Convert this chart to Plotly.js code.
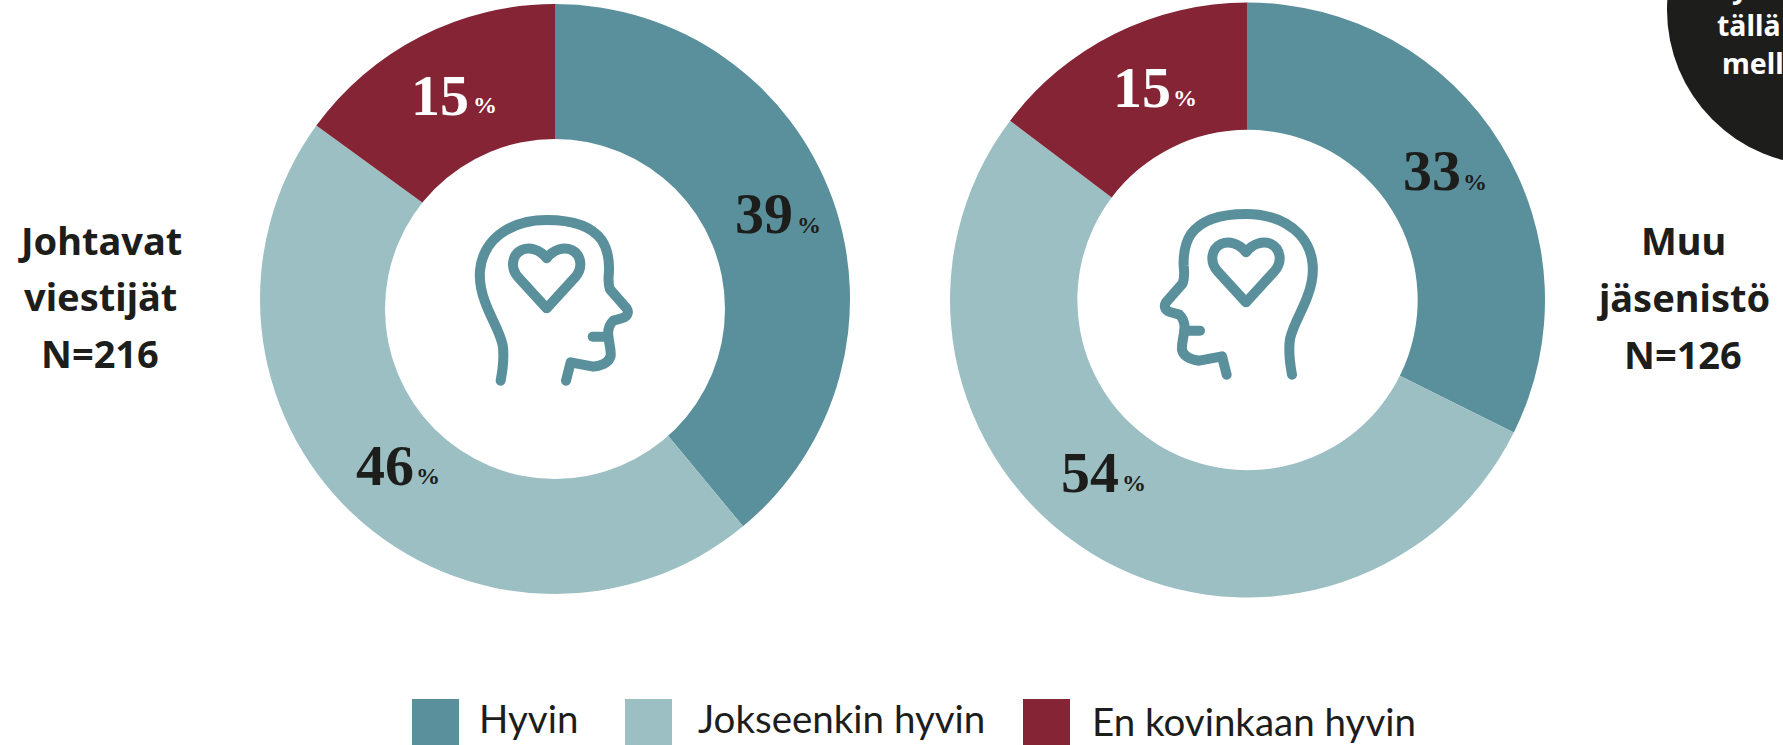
<!DOCTYPE html>
<html><head><meta charset="utf-8">
<script src="https://cdn.plot.ly/plotly-3.0.1.min.js"></script>
<style>html,body{margin:0;padding:0;background:#fff;overflow:hidden}
#c{width:1783px;height:745px}
.shapelayer path{stroke-linecap:round;stroke-linejoin:round}</style>
</head><body><div id="c"></div>
<script>
const categories = ["Hyvin", "Jokseenkin hyvin", "En kovinkaan hyvin"];
const leadersValues = [39, 46, 15];
const othersValues = [33, 54, 15];
const leadersLabel = ["Johtavat", "viestijät", "N=216"];
const othersLabel = ["Muu", "jäsenistö", "N=126"];
const calloutLines = ["y", "tällä", "mell"];
const colors = ["#5A909B", "#9BBFC3", "#842435"];
const labelColors = ["#1D1D1B", "#1D1D1B", "#FFFFFF"];

const W = 1783, H = 745;
const fx = x => x / W, fy = y => 1 - y / H;
const TXT = "#1D1D1B";

function donut(values, cx, cy, r, hole) {
  return {
    type: "pie", values, labels: categories, sort: false, direction: "clockwise", rotation: 0,
    hole, domain: {x: [fx(cx - r), fx(cx + r)], y: [fy(cy + r), fy(cy - r)]},
    marker: {colors, line: {width: 0}},
    textinfo: "none", hoverinfo: "label+percent", showlegend: false
  };
}

const headPath = "M182,572 C188,540 194,505 188,465 C178,420 150,380 135,335 C112,275 110,205 160,150 C205,105 265,90 320,90 C385,90 450,102 485,150 C505,180 508,215 507,245 C505,265 503,280 510,298 L560,355 C568,368 562,378 548,384 L520,392 C507,404 503,422 505,440 C507,460 514,480 512,498 C507,518 490,526 460,530 L392,517 L378,572";
const mouthPath = "M458,440 L505,440";
const heartPath = "M320,205 C300,178 268,170 245,180 C215,195 210,235 235,262 L320,355 L405,262 C430,235 425,195 395,180 C372,170 340,178 320,205 Z";

function mapPath(p, mapper) {
  return p.replace(/(-?\d+(?:\.\d+)?),(-?\d+(?:\.\d+)?)/g, (m, a, b) => {
    const q = mapper(+a, +b);
    return q[0].toFixed(5) + "," + q[1].toFixed(5);
  });
}
const leftIcon = (x, y) => [fx(440 + x / 3), fy(190 + y / 3)];
const rightIcon = (x, y) => [fx(1130 + (668 - x) / 3), fy(190 + (y - 18) / 3)];

const shapes = [];
// white centre of the left ring sits slightly below the ring's own centre
shapes.push({type: "circle", xref: "paper", yref: "paper",
  x0: fx(555 - 170), x1: fx(555 + 170), y0: fy(309 + 170), y1: fy(309 - 170),
  fillcolor: "#FFFFFF", line: {width: 0}, layer: "above"});
[leftIcon, rightIcon].forEach(m => [headPath, mouthPath, heartPath].forEach(p => shapes.push({
  type: "path", xref: "paper", yref: "paper", path: mapPath(p, m),
  line: {color: colors[0], width: 10}, fillcolor: "rgba(0,0,0,0)", layer: "above"
})));
// black callout circle, cut by the page edge
shapes.push({type: "circle", xref: "paper", yref: "paper",
  x0: fx(1667), x1: fx(1667 + 310), y0: fy(10 + 155), y1: fy(10 - 155),
  fillcolor: "#1D1D1B", line: {width: 0}, layer: "below"});
// legend swatches
const swatchX = [412, 625, 1023];
categories.forEach((c, i) => shapes.push({type: "rect", xref: "paper", yref: "paper",
  x0: fx(swatchX[i]), x1: fx(swatchX[i] + 47), y0: fy(699), y1: fy(746),
  fillcolor: colors[i], line: {width: 0}}));

const anns = [];
function note(text, x, y, size, opts) {
  anns.push(Object.assign({text, x: fx(x), y: fy(y), xref: "paper", yref: "paper", xanchor: "center", yanchor: "middle",
    showarrow: false, borderpad: 0, font: {family: "Lato", size, color: TXT}}, opts || {}));
}
const labelY = [240, 296, 353];
leadersLabel.forEach((t, i) => note(`<b>${t}</b>`, 100, labelY[i], 38, {font: {family: "Noto Sans", size: 38, color: TXT}}));
othersLabel.forEach((t, i) => note(`<b>${t}</b>`, 1683, labelY[i] + (i ? 1 : 0), 38, {font: {family: "Noto Sans", size: 38, color: TXT}}));
const legendTextX = [478, 697, 1091], legendTextY = [718, 718, 721];
categories.forEach((c, i) => note(c, legendTextX[i], legendTextY[i], 38.5, {xanchor: "left"}));
const calloutX = [1731, 1716, 1721], calloutY = [-13, 25, 63];
calloutLines.forEach((t, i) => note(`<b>${t}</b>`, calloutX[i], calloutY[i], 28.5,
  {xanchor: "left", font: {family: "Noto Sans", size: 28.5, color: "#FFFFFF"}}));

// percentage labels
function pctLabels(values, numX, numY, pctX, pctY) {
  values.forEach((v, i) => {
    const col = labelColors[i];
    note(`<b>${v}</b>`, numX[i], numY[i], 58, {xanchor: "left", font: {family: "Liberation Serif", size: 58, color: col}});
    note(`<b>%</b>`, pctX[i], pctY[i], 24, {xanchor: "left", font: {family: "Liberation Serif", size: 24, color: col}});
  });
}
pctLabels(leadersValues, [734, 355, 410], [214, 465, 95], [796, 415, 472], [225, 476, 105]);
pctLabels(othersValues, [1402, 1060, 1112], [171, 472, 87], [1462, 1121, 1172], [182, 483, 98]);

const data = [donut(leadersValues, 555, 299, 295, 0.5), donut(othersValues, 1247.5, 300, 297.5, 0.572)];
const layout = {width: W, height: H, margin: {l: 0, r: 0, t: 0, b: 0}, paper_bgcolor: "#fff",
  showlegend: false, shapes, annotations: anns};
Plotly.newPlot("c", data, layout, {displayModeBar: false, staticPlot: true});
</script></body></html>
